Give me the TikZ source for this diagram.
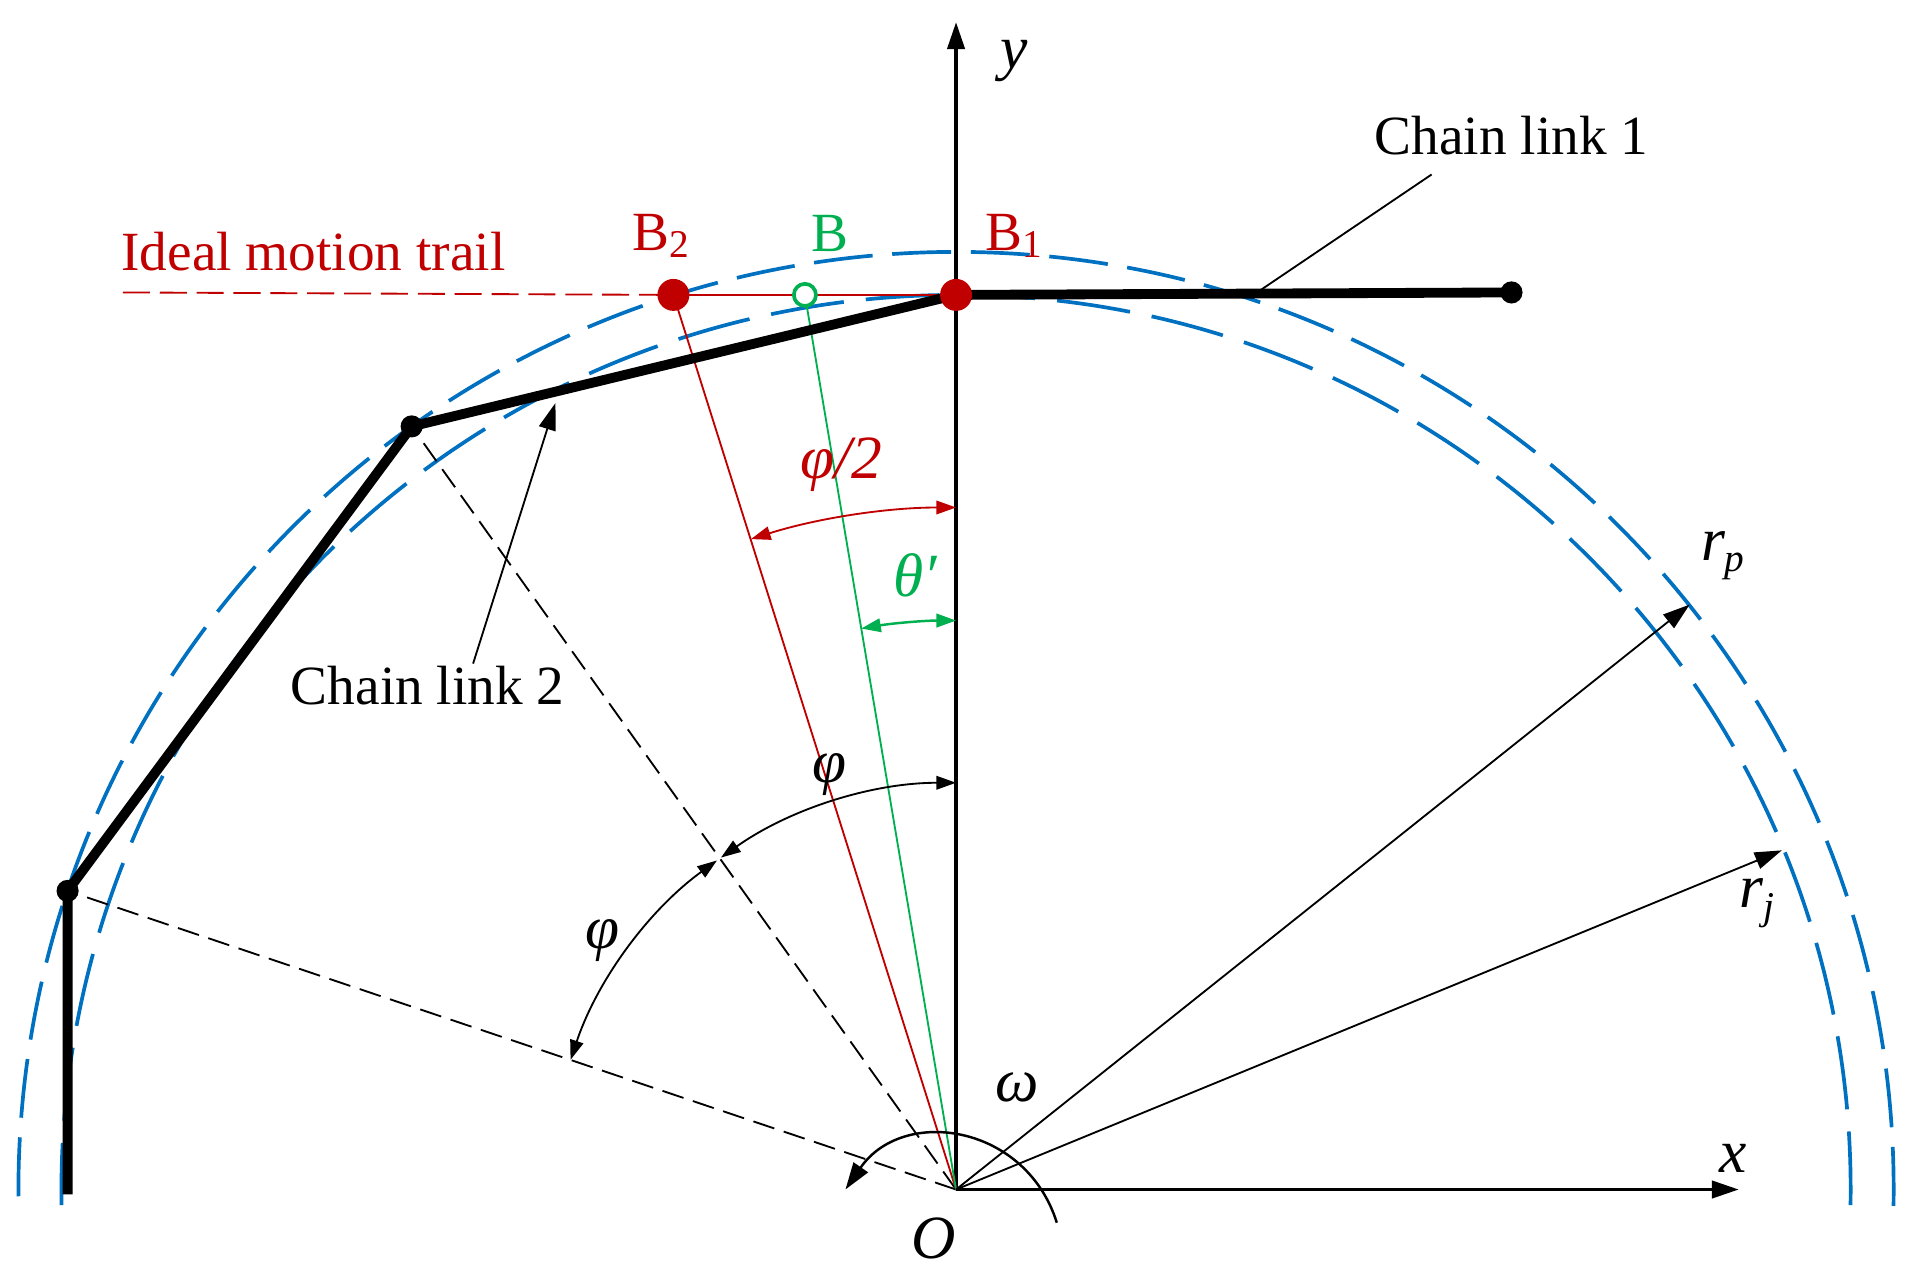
\documentclass[tikz,border=0pt]{standalone}
\usepackage{fontspec}
\setmainfont{Liberation Serif}
\usetikzlibrary{arrows.meta}
\definecolor{rd}{RGB}{192,0,0}
\definecolor{gn}{RGB}{0,176,80}
\definecolor{bl}{RGB}{0,112,192}
\newcommand{\sbs}[1]{\raisebox{-9pt}{\fontsize{32}{36}\selectfont\itshape #1}}
\begin{document}
\begin{tikzpicture}[x=1pt,y=1pt,
  lab/.style={font=\fontsize{45}{50}\selectfont},
  ilab/.style={font=\fontsize{50}{56}\selectfont\itshape},
  thin/.style={line width=1.5pt},
  ar/.style={-{Triangle[length=22pt,width=14pt]}},
  dar/.style={{Triangle[length=16pt,width=11pt]}-{Triangle[length=16pt,width=11pt]}},
  chain/.style={line width=8pt},
  circ/.style={bl,line width=3pt}]
\useasboundingbox (0,0) rectangle (1560,1040);
\coordinate (O) at (778,72);
\coordinate (B1) at (778,800);
\coordinate (B2) at (548,800);
\coordinate (B) at (655,800);
\coordinate (E1) at (1230,802);
\coordinate (J2) at (335,693);
\coordinate (J3) at (55,315);
\coordinate (J4) at (55,68);
\coordinate (T) at (100,802);
% circles
\draw[circ,dash pattern=on 60pt off 18pt] (O) ++(-1:728) arc (-1:181:728);
\draw[circ,dash pattern=on 48pt off 16pt] (O) ++(-1:763) arc (-1:181:763);
% axes
\draw[line width=3pt,ar] (O) -- (778,1022) coordinate (Y);
\draw[line width=3pt,ar] (O) -- (1415,72) coordinate (X);
% dashed radii
\draw[thin,dash pattern=on 18pt off 8pt] (O) -- (J2);
\draw[thin,dash pattern=on 18pt off 8pt] (O) -- (J3);
% red and green
\draw[rd,thin,dash pattern=on 22pt off 8pt] (T) -- (B2);
\draw[rd,thin] (B2) -- (B1);
\draw[rd,thin] (O) -- (B2);
\draw[gn,thin] (O) -- (B);
% chain
\draw[chain] (B1) -- (E1);
\draw[chain,line join=round] (B1) -- (J2) -- (J3) -- (J4);
% radii arrows
\draw[thin,ar] (O) -- (1375,548) coordinate (RP);
\draw[thin,ar] (O) -- (1450,348) coordinate (RJ);
% angle arcs
\draw[rd,thin,dar] (O) ++(90:555) arc (90:107.5:555);
\draw[gn,line width=2pt,dar] (O) ++(90:463) arc (90:99.6:463);
\draw[thin,dar] (O) ++(90:331) arc (90:125.3:331);
\draw[thin,dar] (O) ++(126:331) arc (126:161.4:331);
\coordinate (W1) at (860,45);
\coordinate (W2) at (688,72);
\draw[line width=2pt,ar] (W1) .. controls (835,125) and (735,140) .. (W2);
% dots
\fill[rd] (B1) circle (13);
\fill[rd] (B2) circle (13);
\draw[gn,line width=3pt,fill=white] (B) circle (9);
\fill (J2) circle (9);
\fill (J3) circle (9);
\fill (E1) circle (9);
% pointers
\node[lab] (L1) at (1230,930) {Chain link 1};
\node[lab] (L2) at (348,482) {Chain link 2};
\draw[thin] (1165,898) -- (1020,800);
\draw[thin,ar] (385,500) -- (452,712);
% labels
\node[lab,rd] (lt) at (255,835) {Ideal motion trail};
\node[lab,rd] (lb2) at (538,848) {B\raisebox{-6pt}{\fontsize{32}{36}\selectfont 2}};
\node[lab,gn] (lb) at (675,850) {B};
\node[lab,rd] (lb1) at (825,848) {B\raisebox{-6pt}{\fontsize{32}{36}\selectfont 1}};
\node[ilab,rd] at (685,662) {φ/2};
\node[ilab,gn] at (745,572) {θ′};
\node[ilab] at (675,410) {φ};
\node[ilab] at (490,275) {φ};
\node[ilab] at (828,155) {ω};
\node[ilab] at (760,32) {O};
\node[ilab] at (1410,97) {x};
\node[ilab] at (825,990) {y};
\node[ilab] at (1402,588) {r\sbs{p}};
\node[ilab] at (1430,305) {r\sbs{j}};
\end{tikzpicture}
\end{document}
